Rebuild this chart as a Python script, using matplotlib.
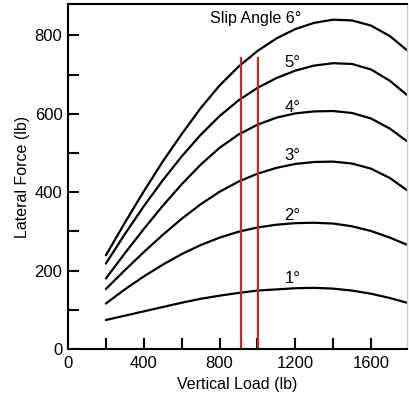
import matplotlib
matplotlib.use("Agg")
import matplotlib.pyplot as plt
from matplotlib.ticker import MultipleLocator

plt.rcParams['font.family'] = ['Liberation Sans', 'DejaVu Sans']

load = [200, 300, 400, 500, 600, 700, 800, 900, 1000, 1100, 1200, 1300, 1400, 1500, 1600, 1700, 1790]
force_6 = [239, 322, 402, 478, 548, 614, 672, 720, 760, 792, 816, 832, 840, 838, 825, 798, 762]
force_5 = [218, 293, 364, 430, 491, 546, 594, 634, 666, 691, 710, 723, 729, 727, 713, 684, 648]
force_4 = [180, 244, 306, 365, 420, 470, 513, 547, 572, 590, 601, 606, 607, 602, 588, 562, 530]
force_3 = [153, 201, 247, 291, 332, 369, 401, 427, 447, 462, 472, 477, 478, 473, 460, 436, 405]
force_2 = [116, 152, 185, 215, 242, 265, 284, 299, 310, 317, 321, 322, 320, 313, 301, 284, 266]
force_1 = [74, 85, 96, 107, 118, 128, 136, 143, 149, 152, 155, 156, 154, 149, 141, 130, 118]
curves = [force_6, force_5, force_4, force_3, force_2, force_1]

angle_labels = ['Slip Angle 6°', '5°', '4°', '3°', '2°', '1°']
label_x = [1184, 1184, 1184, 1184, 1184, 1184]
label_y = [843, 731, 617, 494, 341, 181]

red_x = [915, 1005]
red_top = 742

fig = plt.figure(figsize=(4.09, 4.0), dpi=100)
ax = fig.add_axes([68/409, 51/400, (407-68)/409, (349-4)/400])

for f in curves:
    ax.plot(load, f, color='black', lw=1.6, solid_capstyle='round', solid_joinstyle='round')

for rx in red_x:
    ax.plot([rx, rx], [0, red_top], color='#c8262a', lw=1.6)

for i, (t, lx, ly) in enumerate(zip(angle_labels, label_x, label_y)):
    if i == 0:
        ax.text(lx + 45, ly, t, ha='right', va='center', fontsize=11.5)
    else:
        ax.text(lx, ly, t, ha='center', va='center', fontsize=12)

ax.set_xlim(0, 1790)
ax.set_ylim(0, 880)
ax.xaxis.set_major_locator(MultipleLocator(400))
ax.xaxis.set_minor_locator(MultipleLocator(200))
ax.yaxis.set_major_locator(MultipleLocator(200))
ax.yaxis.set_minor_locator(MultipleLocator(100))
ax.tick_params(which='both', direction='in', length=8, width=1.5, labelsize=12)
ax.tick_params(axis='x', pad=5)
ax.tick_params(axis='y', pad=4)

for s in ['left', 'bottom', 'top']:
    ax.spines[s].set_linewidth(1.5)
ax.spines['right'].set_color('#cccccc')
ax.spines['right'].set_linewidth(1.0)

ax.set_xlabel('Vertical Load (lb)', fontsize=11.5, labelpad=4)
ax.set_ylabel('Lateral Force (lb)', fontsize=11.5, labelpad=3)

fig.savefig('out.png', dpi=100)
